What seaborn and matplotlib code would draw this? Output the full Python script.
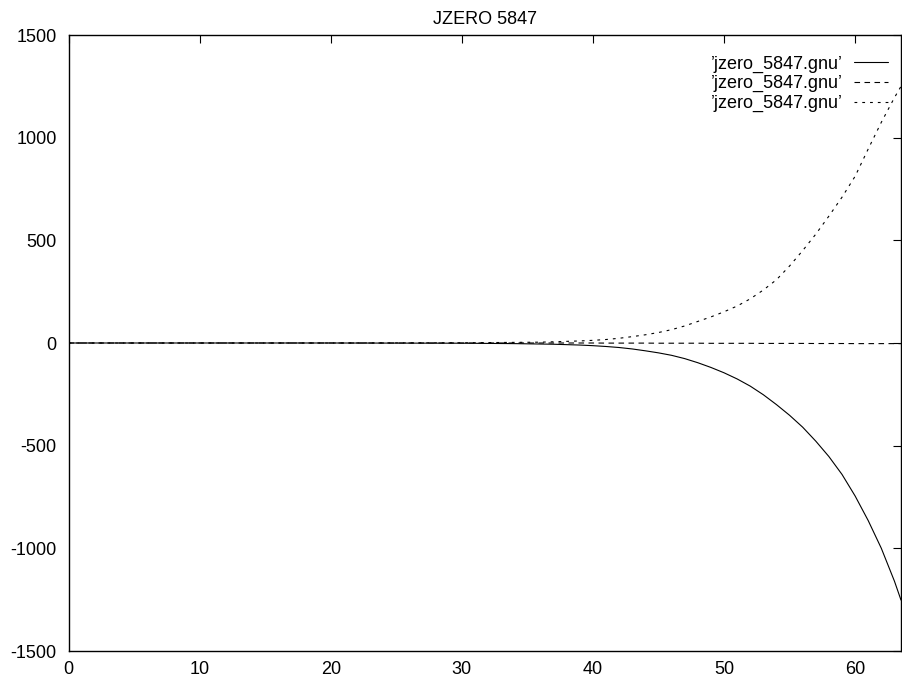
import numpy as np
import pandas as pd
import matplotlib
matplotlib.use('Agg')
import matplotlib.pyplot as plt
import seaborn as sns

# values
x_vals = [0, 5, 10, 15, 20, 25, 30, 31, 32, 33, 34, 35, 36, 37, 38, 39, 40,
          41, 42, 43, 44, 45, 46, 47, 48, 49, 50, 51, 52, 53, 54, 55, 56,
          57, 58, 59, 60, 61, 62, 63, 63.5]
solid_vals = [0, 0, 0, 0, 0, -0.5, -1, -1.5, -2, -2.5, -3, -4, -5, -6, -8, -10, -13,
              -17, -22, -29, -38, -48, -60, -76, -96, -119, -145, -175, -210, -252,
              -300, -352, -410, -478, -553, -640, -745, -865, -1000, -1160, -1252]
dashed_vals = [0, 0, 0, 0, 0, 0, 0, 0, 0, 0, 0, 0, 0, 0, 0, 0, 0,
               -0.5, -0.5, -0.5, -0.5, -1, -1, -1, -1, -1.5, -1.5, -1.5, -1.5, -2,
               -2, -2, -2, -2.5, -2.5, -2.5, -3, -3, -3, -3, -3]
dotted_vals = [0, 0, 0, 0, 0, 0.5, 1, 1.5, 2, 2.5, 3, 3.5, 4, 6, 8, 10, 13,
               17, 23, 31, 40, 51, 65, 83, 105, 127, 152, 180, 215, 258,
               308, 375, 450, 530, 618, 710, 812, 945, 1075, 1195, 1250]
series_label = '\u2019jzero_5847.gnu\u2019'
x_ticks = [0, 10, 20, 30, 40, 50, 60]
y_ticks = [-1500, -1000, -500, 0, 500, 1000, 1500]

df = pd.DataFrame({'x': x_vals, 'solid': solid_vals, 'dashed': dashed_vals, 'dotted': dotted_vals})

sns.set_style('white')
plt.rcParams['font.family'] = ['Liberation Sans', 'DejaVu Sans']
plt.rcParams['axes.unicode_minus'] = False
plt.rcParams['text.color'] = 'black'

fig = plt.figure(figsize=(9.02, 6.8), dpi=100)
ax = fig.add_axes([68.5 / 902, 29 / 680, (901 - 68.5) / 902, (651 - 35) / 680])

sns.lineplot(data=df, x='x', y='solid', color='black', lw=0.8, label=series_label, ax=ax)
sns.lineplot(data=df, x='x', y='dashed', color='black', lw=0.8, linestyle=(0, (5, 4)),
             label=series_label, ax=ax)
sns.lineplot(data=df, x='x', y='dotted', color='black', lw=0.8, linestyle=(0, (2.5, 4.5)),
             label=series_label, ax=ax)

ax.set_xlim(0, 63.5)
ax.set_ylim(-1500, 1500)
ax.set_xticks(x_ticks)
ax.set_yticks(y_ticks)
ax.set_xlabel('')
ax.set_ylabel('')
for s in ax.spines.values():
    s.set_color('black')
    s.set_linewidth(1.0)
ax.tick_params(axis='both', direction='in', length=6, width=0.8, colors='black',
               labelsize=13, top=True, right=True)
ax.tick_params(axis='x', pad=7.5)
ax.tick_params(axis='y', pad=8.5)
ax.set_title('JZERO 5847', fontsize=13, pad=8, color='black')

leg = ax.legend(loc='upper right', bbox_to_anchor=(0.984, 0.967), frameon=False,
                markerfirst=False, fontsize=13, handlelength=1.85, handletextpad=0.65,
                labelspacing=0.15, borderaxespad=0, borderpad=0)
for t in leg.get_texts():
    t.set_color('black')

plt.savefig('out.png', dpi=100)
